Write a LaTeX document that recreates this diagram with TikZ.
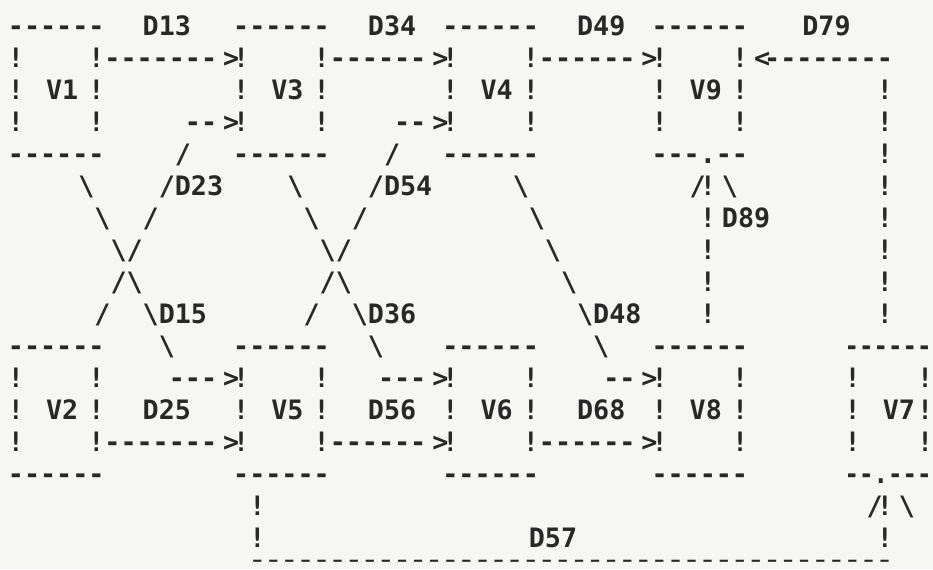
\documentclass[tikz,border=0pt]{standalone}
\usepackage{fontspec}
\setmonofont{DejaVu Sans Mono}
\definecolor{ink}{RGB}{40,40,40}
\definecolor{paper}{RGB}{246,246,244}
\tikzset{
  ga/.style={anchor=base west, inner sep=0pt, outer sep=0pt, text=ink,
    font={\ttfamily\bfseries\fontsize{13.36pt}{16pt}\selectfont}},
}
% layer A: ! - .   (grid);  layer B: letters, slashes, < >  (shifted right)
\newcommand\glA[4]{\node[ga] (#1) at ({7.955+16.09*(#2)},{35+32*(#3)}) {#4};}
\newcommand\glB[4]{\node[ga] (#1) at ({13.96+16.09*(#2)},{35+32*(#3)}) {#4};}
% the right-most column sits on the page edge: keep its glyph boxes inside
\newcommand\glE[2]{\node[ga] (#1) at (917,{35+32*(#2)}) {!};}
\newcommand\bs{\textbackslash}
\begin{document}
\begin{tikzpicture}[x=0.5pt,y=-0.5pt]
\fill[paper] (0,0) rectangle (933,569);
\useasboundingbox (0,0) rectangle (933,569);
% row 0
\glA{r0a}{0}{0}{------}
\glB{D13}{8}{0}{D13}
\glA{r0b}{14}{0}{------}
\glB{D34}{22}{0}{D34}
\glA{r0c}{27}{0}{------}
\glB{D49}{35}{0}{D49}
\glA{r0d}{40}{0}{------}
\glB{D79}{49}{0}{D79}
% row 1
\glA{r1a}{0}{1}{!}
\glA{r1b}{5}{1}{!-------}
\glB{r1c}{13}{1}{>}
\glA{r1d}{14}{1}{!}
\glA{r1e}{19}{1}{!------}
\glB{r1f}{26}{1}{>}
\glA{r1g}{27}{1}{!}
\glA{r1h}{32}{1}{!------}
\glB{r1i}{39}{1}{>}
\glA{r1j}{40}{1}{!}
\glA{r1k}{45}{1}{!}
\glB{r1l}{46}{1}{<}
\glA{r1m}{47}{1}{--------}
% row 2
\glA{r2a}{0}{2}{!}
\glB{V1}{2}{2}{V1}
\glA{r2b}{5}{2}{!}
\glA{r2c}{14}{2}{!}
\glB{V3}{16}{2}{V3}
\glA{r2d}{19}{2}{!}
\glA{r2e}{27}{2}{!}
\glB{V4}{29}{2}{V4}
\glA{r2f}{32}{2}{!}
\glA{r2g}{40}{2}{!}
\glB{V9}{42}{2}{V9}
\glA{r2h}{45}{2}{!}
\glA{r2i}{54}{2}{!}
% row 3
\glA{r3a}{0}{3}{!}
\glA{r3b}{5}{3}{!}
\glA{r3c}{11}{3}{--}
\glB{r3d}{13}{3}{>}
\glA{r3e}{14}{3}{!}
\glA{r3f}{19}{3}{!}
\glA{r3g}{24}{3}{--}
\glB{r3h}{26}{3}{>}
\glA{r3i}{27}{3}{!}
\glA{r3j}{32}{3}{!}
\glA{r3k}{40}{3}{!}
\glA{r3l}{45}{3}{!}
\glA{r3m}{54}{3}{!}
% row 4
\glA{r4a}{0}{4}{------}
\glB{r4b}{10}{4}{/}
\glA{r4c}{14}{4}{------}
\glB{r4d}{23}{4}{/}
\glA{r4e}{27}{4}{------}
\glA{r4f}{40}{4}{---.--}
\glA{r4g}{54}{4}{!}
% row 5
\glB{r5a}{4}{5}{\bs}
\glB{r5b}{9}{5}{/}
\glB{D23}{10}{5}{D23}
\glB{r5c}{17}{5}{\bs}
\glB{r5d}{22}{5}{/}
\glB{D54}{23}{5}{D54}
\glB{r5e}{31}{5}{\bs}
\glB{r5f}{42}{5}{/}
\glA{r5g}{43}{5}{!}
\glB{r5h}{44}{5}{\bs}
\glA{r5i}{54}{5}{!}
% row 6
\glB{r6a}{5}{6}{\bs}
\glB{r6b}{8}{6}{/}
\glB{r6c}{18}{6}{\bs}
\glB{r6d}{21}{6}{/}
\glB{r6e}{32}{6}{\bs}
\glA{r6f}{43}{6}{!}
\glB{D89}{44}{6}{D89}
\glA{r6g}{54}{6}{!}
% row 7
\glB{r7a}{6}{7}{\bs/}
\glB{r7b}{19}{7}{\bs/}
\glB{r7c}{33}{7}{\bs}
\glA{r7d}{43}{7}{!}
\glA{r7e}{54}{7}{!}
% row 8
\glB{r8a}{6}{8}{/\bs}
\glB{r8b}{19}{8}{/\bs}
\glB{r8c}{34}{8}{\bs}
\glA{r8d}{43}{8}{!}
\glA{r8e}{54}{8}{!}
% row 9
\glB{r9a}{5}{9}{/}
\glB{r9b}{8}{9}{\bs}
\glB{D15}{9}{9}{D15}
\glB{r9c}{18}{9}{/}
\glB{r9d}{21}{9}{\bs}
\glB{D36}{22}{9}{D36}
\glB{r9e}{35}{9}{\bs}
\glB{D48}{36}{9}{D48}
\glA{r9f}{43}{9}{!}
\glA{r9g}{54}{9}{!}
% row 10
\glA{r10a}{0}{10}{------}
\glB{r10b}{9}{10}{\bs}
\glA{r10c}{14}{10}{------}
\glB{r10d}{22}{10}{\bs}
\glA{r10e}{27}{10}{------}
\glB{r10f}{36}{10}{\bs}
\glA{r10g}{40}{10}{------}
\glA{r10h}{52}{10}{\scalebox{0.9}[1]{------}}
% row 11
\glA{r11a}{0}{11}{!}
\glA{r11b}{5}{11}{!}
\glA{r11c}{10}{11}{---}
\glB{r11d}{13}{11}{>}
\glA{r11e}{14}{11}{!}
\glA{r11f}{19}{11}{!}
\glA{r11g}{23}{11}{---}
\glB{r11h}{26}{11}{>}
\glA{r11i}{27}{11}{!}
\glA{r11j}{32}{11}{!}
\glA{r11k}{37}{11}{--}
\glB{r11l}{39}{11}{>}
\glA{r11m}{40}{11}{!}
\glA{r11n}{45}{11}{!}
\glA{r11o}{52}{11}{!}
\glE{r11p}{11}
% row 12
\glA{r12a}{0}{12}{!}
\glB{V2}{2}{12}{V2}
\glA{r12b}{5}{12}{!}
\glB{D25}{8}{12}{D25}
\glA{r12c}{14}{12}{!}
\glB{V5}{16}{12}{V5}
\glA{r12d}{19}{12}{!}
\glB{D56}{22}{12}{D56}
\glA{r12e}{27}{12}{!}
\glB{V6}{29}{12}{V6}
\glA{r12f}{32}{12}{!}
\glB{D68}{35}{12}{D68}
\glA{r12g}{40}{12}{!}
\glB{V8}{42}{12}{V8}
\glA{r12h}{45}{12}{!}
\glA{r12i}{52}{12}{!}
\glB{V7}{54}{12}{V7}
\glE{r12j}{12}
% row 13
\glA{r13a}{0}{13}{!}
\glA{r13b}{5}{13}{!-------}
\glB{r13c}{13}{13}{>}
\glA{r13d}{14}{13}{!}
\glA{r13e}{19}{13}{!------}
\glB{r13f}{26}{13}{>}
\glA{r13g}{27}{13}{!}
\glA{r13h}{32}{13}{!------}
\glB{r13i}{39}{13}{>}
\glA{r13j}{40}{13}{!}
\glA{r13k}{45}{13}{!}
\glA{r13l}{52}{13}{!}
\glE{r13m}{13}
% row 14
\glA{r14a}{0}{14}{------}
\glA{r14b}{14}{14}{------}
\glA{r14c}{27}{14}{------}
\glA{r14d}{40}{14}{------}
\glA{r14e}{52}{14}{\scalebox{0.9}[1]{--.---}}
% row 15
\glA{r15a}{15}{15}{!}
\glB{r15b}{53}{15}{/}
\glA{r15c}{54}{15}{!}
\glB{r15d}{55}{15}{\bs}
% row 16
\glA{r16a}{15}{16}{!}
\glB{D57}{32}{16}{D57}
\glA{r16b}{54}{16}{!}
% row 17 (bottom line along the lower edge, squeezed to fit the page)
\node[ga] (r17) at ({7.955+16.09*15},565.5) {\scalebox{1}[0.55]{----------------------------------------}};
\end{tikzpicture}
\end{document}
